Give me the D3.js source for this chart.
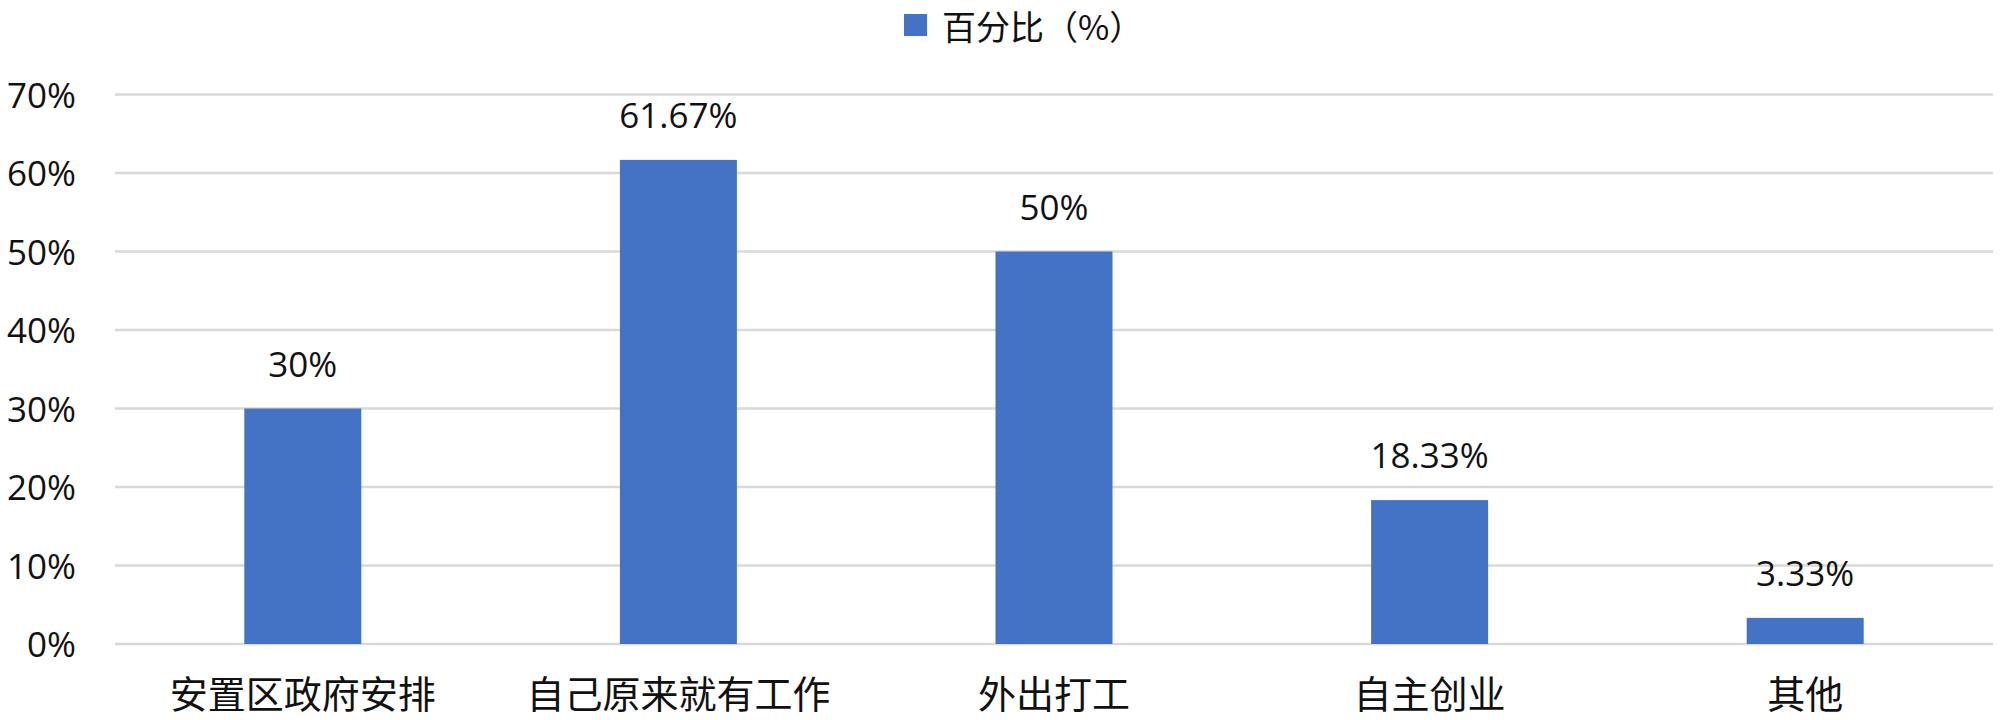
<!DOCTYPE html>
<html>
<head>
<meta charset="utf-8">
<script src="https://cdn.jsdelivr.net/npm/d3@7"></script>
<style>
  html, body { margin: 0; padding: 0; background: #fff; }
  svg { display: block; }
</style>
</head>
<body>
<svg id="chart" width="2000" height="720"></svg>
<script>
const categories = ["安置区政府安排", "自己原来就有工作", "外出打工", "自主创业", "其他"];
const values = [30, 61.67, 50, 18.33, 3.33];
const valueLabels = ["30%", "61.67%", "50%", "18.33%", "3.33%"];
const yTicks = [0, 10, 20, 30, 40, 50, 60, 70];
const seriesName = "百分比（%）";

(function () {
const svg = d3.select("#chart");
const mLeft = 115, mRight = 1993, mTop = 94.5, mBottom = 644;
const latinFont = "'Open Sans', 'Noto Sans', sans-serif";
const cjkFont = "'Noto Sans CJK SC', sans-serif";
const barColor = "#4472C4";

const x = d3.scaleBand().domain(categories).range([mLeft, mRight]).paddingInner(0).paddingOuter(0);
const y = d3.scaleLinear().domain([0, 70]).range([mBottom, mTop]);
const barW = x.step() * 0.3115;

// gridlines
svg.append("g").selectAll("line").data(yTicks).join("line")
  .attr("x1", mLeft).attr("x2", mRight)
  .attr("y1", d => y(d)).attr("y2", d => y(d))
  .attr("stroke", "#d9d9d9").attr("stroke-width", 2.5);

// y axis labels
const yAxis = d3.axisLeft(y).tickValues(yTicks).tickFormat(d => d + "%").tickSize(0).tickPadding(0);
const yg = svg.append("g").attr("transform", `translate(76,0)`).call(yAxis);
yg.select(".domain").remove();
yg.selectAll("text")
  .attr("font-family", latinFont).attr("font-size", 35).attr("fill", "#111")
  .attr("dy", "0.36em");

// bars
svg.append("g").selectAll("rect").data(values).join("rect")
  .attr("x", (d, i) => x(categories[i]) + x.bandwidth() / 2 - barW / 2)
  .attr("width", barW)
  .attr("y", d => y(d))
  .attr("height", d => y(0) - y(d))
  .attr("fill", barColor);

// value labels
svg.append("g").selectAll("text").data(values).join("text")
  .attr("x", (d, i) => x(categories[i]) + x.bandwidth() / 2)
  .attr("y", d => y(d) - 32)
  .attr("text-anchor", "middle")
  .attr("font-family", latinFont).attr("font-size", 35).attr("fill", "#111")
  .text((d, i) => valueLabels[i]);

// x axis labels
const xAxis = d3.axisBottom(x).tickSize(0).tickPadding(0);
const xg = svg.append("g").attr("transform", `translate(0,${mBottom})`).call(xAxis);
xg.select(".domain").remove();
xg.selectAll("text")
  .attr("font-family", cjkFont).attr("font-size", 38).attr("fill", "#111")
  .attr("y", 64).attr("dy", 0);

// legend
const lg = svg.append("g");
lg.append("rect").attr("x", 904).attr("y", 14).attr("width", 23).attr("height", 22).attr("fill", barColor);
lg.append("text").attr("x", 942).attr("y", 40)
  .attr("font-family", cjkFont).attr("font-size", 34).attr("fill", "#111")
  .text(seriesName);
})();
</script>
</body>
</html>
